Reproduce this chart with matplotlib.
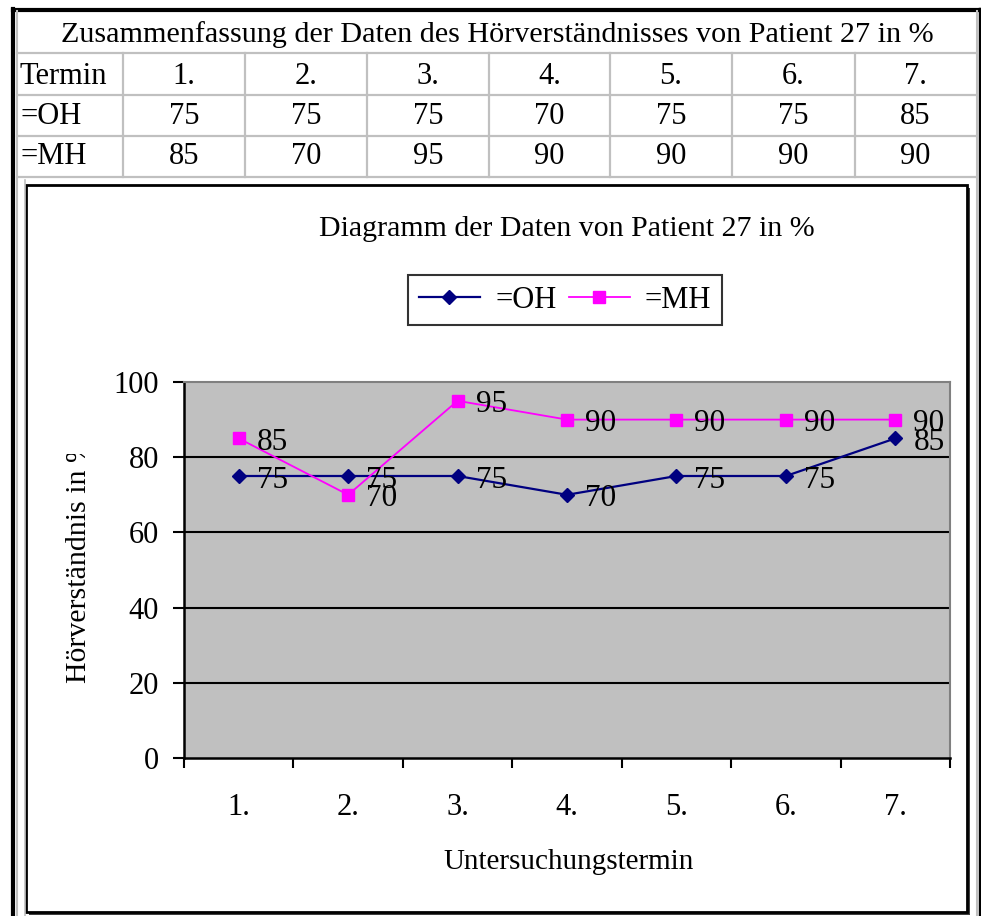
import matplotlib
matplotlib.use("Agg")
from matplotlib import pyplot as plt, patches
from matplotlib.transforms import Bbox

plt.rcParams['font.family'] = ['Liberation Serif', 'DejaVu Serif']

table_title = "Zusammenfassung der Daten des Hörverständnisses von Patient 27 in %"
termine = ["1.", "2.", "3.", "4.", "5.", "6.", "7."]
oh_values = [75, 75, 75, 70, 75, 75, 85]
mh_values = [85, 70, 95, 90, 90, 90, 90]
series_names = ["=OH", "=MH"]
chart_title = "Diagramm der Daten von Patient 27 in %"
y_label = "Hörverständnis in %"
x_label = "Untersuchungstermin"

W, H = 981, 916
fig = plt.figure(figsize=(W / 100, H / 100), dpi=100)

# background layer in pixel coords (y down)
bg = fig.add_axes([0, 0, 1, 1])
bg.set_xlim(0, W)
bg.set_ylim(H, 0)
bg.axis("off")

grey = "#c0c0c0"
# outer frame
bg.plot([13, 13], [9, H], color="black", lw=3)
bg.plot([13, 980], [9.5, 9.5], color="black", lw=3)
bg.plot([979.5, 979.5], [9, H], color="black", lw=2.5)
bg.plot([16.5, 16.5], [11, H], color=grey, lw=1.5)
bg.plot([976.5, 976.5], [11, H], color=grey, lw=1.5)

# table grid
row_lines = [53, 95, 136, 177]
col_lines = [123, 245, 367, 489, 610, 732, 855]
for y in row_lines:
    bg.plot([17, 976], [y, y], color=grey, lw=1.6)
for x in col_lines:
    bg.plot([x, x], [53, 177], color=grey, lw=1.6)

fs = 22
bg.text(497, 35, table_title, ha="center", va="center", fontsize=21.7)
row_y = [76, 117, 157]
rows = [("Termin", termine), (series_names[0], oh_values), (series_names[1], mh_values)]
edges = [123] + col_lines[1:] + [976]
for (name, vals), y in zip(rows, row_y):
    bg.text(20, y, name, ha="left", va="center", fontsize=fs)
    for i, v in enumerate(vals):
        cx = (edges[i] + edges[i + 1]) / 2
        bg.text(cx, y, str(v), ha="center", va="center", fontsize=fs)

# chart box with shadow
bg.add_patch(patches.Rectangle((29, 188), 941, 727, facecolor="#404040", edgecolor="none"))
bg.add_patch(patches.Rectangle((26, 185), 941, 727, facecolor="white", edgecolor="black", lw=2))
bg.plot([25, 25], [180, H], color=grey, lw=1.2)

bg.text(567, 229, chart_title, ha="center", va="center", fontsize=21.5)
bg.text(569, 862, x_label, ha="center", va="center", fontsize=21)
# the y label is cut off at the top in the original
yl = bg.text(79, 560, y_label, ha="center", va="center", rotation=90, fontsize=21.5)
yl.set_clip_box(Bbox([[0, 0], [W, H - 454]]))
yl.set_clip_on(True)

# plot area
left, right, top, bottom = 184, 950, 382, 758
ax = fig.add_axes([left / W, 1 - bottom / H, (right - left) / W, (bottom - top) / H])
ax.set_facecolor("#c0c0c0")
x = list(range(1, len(termine) + 1))
l1, = ax.plot(x, oh_values, color="#000080", lw=1.6, marker="D", markersize=7.5,
              label=series_names[0], zorder=3)
l2, = ax.plot(x, mh_values, color="#ff00ff", lw=1.3, marker="s", markersize=8.5,
              label=series_names[1], zorder=3)
for xs, vals in ((x, oh_values), (x, mh_values)):
    for xi, v in zip(xs, vals):
        ax.annotate(str(v), (xi, v), xytext=(13, -3), textcoords="offset points",
                    ha="left", va="center", fontsize=22.5, zorder=4)

ax.set_xlim(0.5, len(termine) + 0.5)
ax.set_ylim(0, 100)
ax.set_yticks([0, 20, 40, 60, 80, 100])
ax.set_xticks([i + 0.5 for i in range(len(termine) + 1)])
ax.set_xticklabels([])
ax.set_xticks(x, minor=True)
ax.set_xticklabels(termine, minor=True, fontsize=22)
ax.tick_params(axis="x", which="minor", length=0, pad=25)
ax.tick_params(axis="x", which="major", direction="out", length=7.5, width=1.5)
ax.tick_params(axis="y", direction="out", length=8, width=1.5, labelsize=22, pad=10)
for yv in [20, 40, 60, 80]:
    ax.axhline(yv, color="black", lw=1.5, zorder=1)
for s in ("left", "bottom"):
    ax.spines[s].set_color("black")
    ax.spines[s].set_linewidth(1.8)
for s in ("top", "right"):
    ax.spines[s].set_color("#808080")
    ax.spines[s].set_linewidth(1.5)

leg = fig.legend(handles=[l1, l2], loc="center", bbox_to_anchor=(565 / W, 1 - 300 / H),
                 ncol=2, fontsize=22, frameon=True, fancybox=False, handlelength=2.0,
                 columnspacing=0.4, handletextpad=0.5, borderpad=0.35)
leg.get_frame().set_edgecolor("black")
leg.get_frame().set_linewidth(1.5)

fig.savefig("out.png", dpi=100)
